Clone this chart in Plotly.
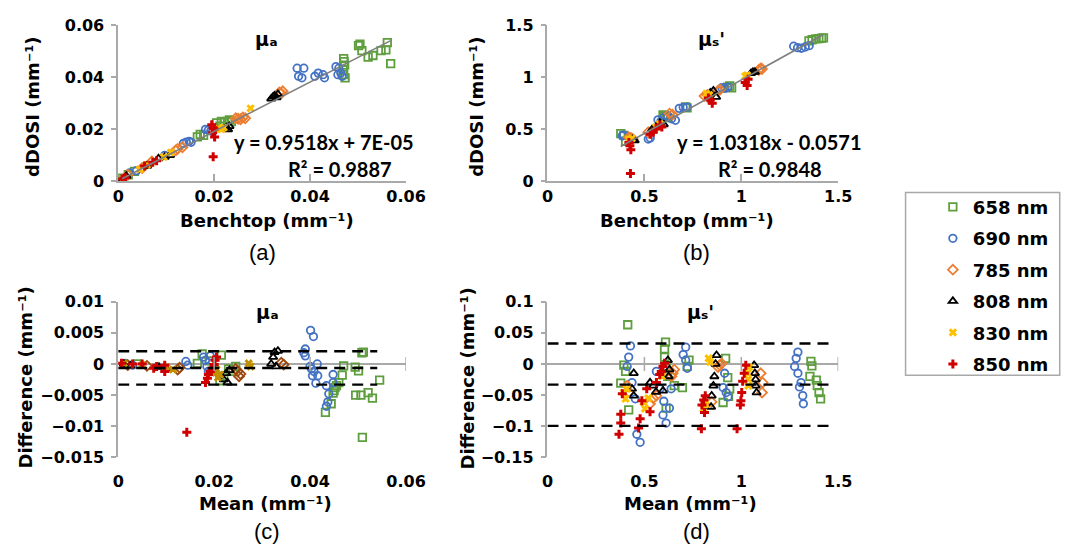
import plotly.graph_objects as go

# ---------------- data ----------------
WAVELENGTHS = ["658 nm", "690 nm", "785 nm", "808 nm", "830 nm", "850 nm"]

# (a) mu_a : benchtop vs dDOSI (mm^-1)
A_658_X = [0.0009, 0.0021, 0.0034, 0.0165, 0.0171, 0.0178, 0.0205, 0.0212, 0.0215, 0.0222, 0.0228, 0.0232, 0.0236,
           0.0470, 0.0471, 0.0472, 0.0469, 0.0470, 0.0473, 0.0501, 0.0504, 0.0508, 0.0521, 0.0531, 0.0548, 0.0558,
           0.0561, 0.0568]
A_658_Y = [0.0011, 0.0024, 0.0037, 0.0170, 0.0180, 0.0176, 0.0224, 0.0211, 0.0230, 0.0226, 0.0230, 0.0236, 0.0229,
           0.0472, 0.0460, 0.0447, 0.0429, 0.0410, 0.0398, 0.0522, 0.0528, 0.0503, 0.0478, 0.0484, 0.0503, 0.0506,
           0.0534, 0.0453]
A_690_X = [0.0012, 0.0024, 0.0038, 0.0097, 0.0136, 0.0142, 0.0148, 0.0152, 0.0182, 0.0188, 0.0193, 0.0373, 0.0387,
           0.0376, 0.0383, 0.0410, 0.0417, 0.0427, 0.0430, 0.0454, 0.0460, 0.0464, 0.0467, 0.0458]
A_690_Y = [0.0010, 0.0031, 0.0040, 0.0099, 0.0145, 0.0150, 0.0153, 0.0149, 0.0199, 0.0196, 0.0193, 0.0435, 0.0435,
           0.0404, 0.0398, 0.0404, 0.0416, 0.0410, 0.0398, 0.0441, 0.0435, 0.0416, 0.0404, 0.0410]
A_785_X = [0.0020, 0.0050, 0.0070, 0.0120, 0.0124, 0.0134, 0.0245, 0.0250, 0.0255, 0.0260, 0.0265, 0.0336, 0.0340, 0.0343]
A_785_Y = [0.0024, 0.0050, 0.0075, 0.0118, 0.0124, 0.0130, 0.0242, 0.0240, 0.0238, 0.0245, 0.0242, 0.0342, 0.0338, 0.0346]
A_808_X = [0.0010, 0.0017, 0.0060, 0.0084, 0.0097, 0.0108, 0.0225, 0.0229, 0.0232, 0.0319, 0.0323, 0.0326, 0.0330, 0.0333]
A_808_Y = [0.0006, 0.0019, 0.0058, 0.0087, 0.0093, 0.0099, 0.0206, 0.0199, 0.0211, 0.0317, 0.0325, 0.0329, 0.0322, 0.0335]
A_830_X = [0.0012, 0.0045, 0.0060, 0.0095, 0.0110, 0.0208, 0.0215, 0.0220, 0.0276]
A_830_Y = [0.0010, 0.0045, 0.0062, 0.0092, 0.0110, 0.0203, 0.0199, 0.0206, 0.0280]
A_850_X = [0.0008, 0.0015, 0.0055, 0.0072, 0.0080, 0.0195, 0.0198, 0.0200, 0.0201, 0.0197, 0.0198]
A_850_Y = [0.0008, 0.0012, 0.0058, 0.0072, 0.0078, 0.0217, 0.0205, 0.0200, 0.0170, 0.0186, 0.0093]

# (b) mu_s' : benchtop vs dDOSI (mm^-1)
B_658_X = [0.378, 0.394, 0.403, 0.596, 0.604, 0.612, 0.620, 0.713, 0.720, 0.930, 0.940, 0.950,
           1.349, 1.365, 1.384, 1.400, 1.414, 1.424]
B_658_Y = [0.456, 0.440, 0.382, 0.637, 0.625, 0.621, 0.610, 0.714, 0.705, 0.905, 0.916, 0.898,
           1.350, 1.362, 1.370, 1.372, 1.378, 1.380]
B_690_X = [0.386, 0.392, 0.520, 0.530, 0.570, 0.585, 0.600, 0.620, 0.640, 0.660, 0.680, 0.700, 0.720,
           0.900, 0.915, 0.930, 1.270, 1.290, 1.310, 1.330, 1.350]
B_690_Y = [0.435, 0.445, 0.404, 0.415, 0.590, 0.575, 0.610, 0.630, 0.600, 0.585, 0.700, 0.710, 0.712,
           0.900, 0.893, 0.905, 1.300, 1.285, 1.280, 1.292, 1.305]
B_785_X = [0.420, 0.430, 0.440, 0.520, 0.630, 0.645, 0.810, 0.825, 0.880, 0.890, 1.090, 1.100, 1.107]
B_785_Y = [0.420, 0.415, 0.405, 0.470, 0.650, 0.640, 0.820, 0.830, 0.870, 0.880, 1.070, 1.085, 1.080]
B_808_X = [0.440, 0.450, 0.540, 0.560, 0.580, 0.600, 0.840, 0.856, 0.870, 1.050, 1.060, 1.070]
B_808_Y = [0.400, 0.390, 0.500, 0.520, 0.560, 0.545, 0.850, 0.870, 0.810, 1.040, 1.050, 1.050]
B_830_X = [0.420, 0.435, 0.560, 0.580, 0.820, 0.835, 1.020, 1.030]
B_830_Y = [0.400, 0.410, 0.520, 0.550, 0.840, 0.830, 1.010, 1.020]
B_850_X = [0.420, 0.425, 0.430, 0.428, 0.530, 0.545, 0.560, 0.580, 0.590, 0.830, 0.840, 0.850, 1.020, 1.030, 1.035]
B_850_Y = [0.370, 0.340, 0.300, 0.071, 0.450, 0.470, 0.500, 0.540, 0.520, 0.800, 0.780, 0.750, 0.950, 0.920, 0.980]

# (c) mu_a : mean vs difference (mm^-1)
C_658_X = [0.0040, 0.0165, 0.0175, 0.0190, 0.0200, 0.0212, 0.0215, 0.0220, 0.0230, 0.0239, 0.0245, 0.0432, 0.0444,
           0.0448, 0.0450, 0.0452, 0.0455, 0.0460, 0.0467, 0.0470, 0.0494, 0.0495, 0.0501, 0.0506, 0.0508, 0.0511,
           0.0509, 0.0521, 0.0530, 0.0545]
C_658_Y = [0.0000, 0.0001, 0.0016, 0.0005, -0.0010, -0.0027, 0.0014, -0.0020, -0.0008, -0.0012, -0.0004, -0.0078,
           -0.0064, -0.0047, -0.0043, -0.0038, -0.0035, -0.0030, -0.0018, -0.0003, -0.0005, -0.0050, -0.0011, -0.0050,
           0.0018, 0.0019, -0.0118, -0.0046, -0.0055, -0.0026]
C_690_X = [0.0015, 0.0030, 0.0141, 0.0145, 0.0178, 0.0182, 0.0185, 0.0188, 0.0192, 0.0387, 0.0390, 0.0390, 0.0400,
           0.0401, 0.0403, 0.0405, 0.0407, 0.0408, 0.0412, 0.0415, 0.0416, 0.0434, 0.0434, 0.0437, 0.0439, 0.0448, 0.0448]
C_690_Y = [0.0001, -0.0002, 0.0004, -0.0002, 0.0011, 0.0006, -0.0004, -0.0012, 0.0013, 0.0018, 0.0024, 0.0013,
           -0.0004, 0.0054, -0.0008, -0.0019, 0.0044, -0.0012, -0.0031, 0.0000, -0.0019, -0.0035, -0.0068, -0.0061,
           -0.0048, -0.0017, -0.0030]
C_785_X = [0.0020, 0.0060, 0.0124, 0.0128, 0.0245, 0.0249, 0.0252, 0.0255, 0.0340, 0.0345]
C_785_Y = [-0.0002, -0.0003, -0.0009, -0.0006, -0.0008, -0.0012, -0.0020, -0.0016, 0.0002, -0.0001]
C_808_X = [0.0012, 0.0025, 0.0085, 0.0100, 0.0220, 0.0225, 0.0228, 0.0232, 0.0319, 0.0323, 0.0326, 0.0329, 0.0333]
C_808_Y = [0.0000, -0.0003, -0.0005, -0.0008, -0.0025, -0.0015, -0.0030, -0.0010, 0.0000, 0.0011, 0.0019, -0.0004, 0.0021]
C_830_X = [0.0012, 0.0050, 0.0100, 0.0114, 0.0203, 0.0205, 0.0208, 0.0212, 0.0272, 0.0276]
C_830_Y = [0.0001, -0.0002, -0.0005, -0.0009, -0.0014, -0.0009, -0.0022, -0.0017, 0.0001, -0.0004]
C_850_X = [0.0007, 0.0030, 0.0050, 0.0074, 0.0080, 0.0097, 0.0097, 0.0143, 0.0182, 0.0186, 0.0188, 0.0192, 0.0195,
           0.0200, 0.0202, 0.0205]
C_850_Y = [0.0001, 0.0000, 0.0000, -0.0007, -0.0004, -0.0002, -0.0012, -0.0110, -0.0030, -0.0023, -0.0017, -0.0012,
           -0.0007, -0.0001, 0.0006, 0.0011]

# (d) mu_s' : mean vs difference (mm^-1)
D_658_X = [0.414, 0.394, 0.403, 0.378, 0.419, 0.609, 0.604, 0.604, 0.612, 0.620, 0.612, 0.654, 0.696, 0.721, 0.730,
           0.919, 0.940, 0.930, 0.934, 0.906, 1.359, 1.364, 1.354, 1.387, 1.392, 1.401, 1.409]
D_658_Y = [0.063, -0.002, -0.012, -0.031, -0.074, 0.035, 0.024, 0.011, -0.004, -0.020, -0.071, -0.035, -0.038, -0.004,
           0.006, 0.009, -0.040, -0.022, -0.052, -0.062, 0.004, -0.003, -0.020, -0.026, -0.035, -0.046, -0.056]
D_690_X = [0.428, 0.419, 0.411, 0.436, 0.453, 0.461, 0.478, 0.562, 0.580, 0.596, 0.612, 0.629, 0.638, 0.600, 0.713,
           0.713, 0.721, 0.700, 0.914, 0.906, 0.922, 0.931, 1.292, 1.283, 1.275, 1.292, 1.308, 1.300, 1.317, 1.320]
D_690_Y = [0.029, 0.011, -0.004, -0.030, -0.056, -0.113, -0.126, -0.012, -0.040, -0.082, -0.095, -0.071, -0.040,
           -0.060, 0.027, 0.006, -0.007, 0.015, -0.015, -0.038, -0.046, -0.053, 0.019, 0.009, -0.004, -0.015, -0.030,
           -0.037, -0.051, -0.064]
D_785_X = [0.411, 0.420, 0.529, 0.545, 0.562, 0.646, 0.654, 0.640, 0.847, 0.889, 0.898, 0.880, 1.100, 1.107, 1.110]
D_785_Y = [-0.035, -0.045, -0.064, -0.055, -0.051, -0.015, -0.009, -0.020, -0.061, -0.002, 0.001, -0.005, -0.015,
           -0.046, -0.030]
D_808_X = [0.445, 0.436, 0.445, 0.529, 0.545, 0.560, 0.596, 0.621, 0.629, 0.625, 0.872, 0.867, 0.861, 0.856, 0.847,
           0.844, 1.066, 1.070, 1.074, 1.074, 1.079]
D_808_Y = [-0.015, -0.040, -0.051, -0.030, -0.035, -0.045, -0.043, 0.006, -0.009, -0.020, 0.014, 0.000, -0.020,
           -0.035, -0.051, -0.069, -0.002, -0.015, -0.025, -0.035, -0.046]
D_830_X = [0.394, 0.403, 0.410, 0.495, 0.503, 0.520, 0.590, 0.831, 0.839, 0.805, 0.815, 1.032, 1.036, 1.036, 1.040]
D_830_Y = [-0.046, -0.056, -0.040, -0.061, -0.072, -0.055, -0.020, 0.009, 0.003, -0.072, -0.065, -0.015, -0.025,
           -0.035, -0.005]
D_850_X = [0.378, 0.378, 0.369, 0.386, 0.478, 0.470, 0.487, 0.512, 0.529, 0.562, 0.579, 0.587, 0.596, 0.604, 0.814,
           0.806, 0.797, 0.810, 0.794, 0.978, 1.023, 1.015, 1.007, 1.002, 0.998, 0.995]
D_850_Y = [-0.081, -0.095, -0.113, -0.048, -0.088, -0.103, -0.059, -0.040, -0.077, -0.030, -0.017, -0.012, -0.004,
           0.001, -0.051, -0.058, -0.066, -0.078, -0.104, -0.104, -0.002, -0.015, -0.028, -0.046, -0.059, -0.066]

# linear fits (a), (b)
FIT_A = (0.9518, 7e-05)
FIT_B = (1.0318, -0.0571)
FIT_A_TEXT = ["y = 0.9518x + 7E-05", "R² = 0.9887"]
FIT_B_TEXT = ["y = 1.0318x - 0.0571", "R² = 0.9848"]

# Bland-Altman bias and limits of agreement (c), (d)
BA_C = [0.00203, -0.00065, -0.00333]
BA_C_SPAN = [0.0, 0.054]
BA_D = [0.0329, -0.0333, -0.0995]
BA_D_SPAN = [0.0, 1.47]

# axis ticks
TICKS_MUA = [0, 0.02, 0.04, 0.06]
TICKS_MUA_TXT = ["0", "0.02", "0.04", "0.06"]
TICKS_MUS = [0, 0.5, 1, 1.5]
TICKS_MUS_TXT = ["0", "0.5", "1", "1.5"]
TICKS_DIFF_A = [-0.015, -0.01, -0.005, 0, 0.005, 0.01]
TICKS_DIFF_A_TXT = ["\u22120.015", "\u22120.01", "\u22120.005", "0", "0.005", "0.01"]
TICKS_DIFF_S = [-0.15, -0.1, -0.05, 0, 0.05, 0.1]
TICKS_DIFF_S_TXT = ["\u22120.15", "\u22120.1", "\u22120.05", "0", "0.05", "0.1"]

# ---------------- styling ----------------
W, H = 1068, 560
SANS = "DejaVu Sans"
EQ_FONT = "Lato"
AX_GRAY = "#A9A9A9"
SYMBOLS = ["square-open", "circle-open", "diamond-open", "triangle-up-open", "x", "cross"]
COLORS = ["#5E9E3E", "#4472C4", "#ED7D31", "#000000", "#FFC000", "#D00000"]
COLORS_C = ["#5E9E3E", "#4472C4", "#9E480E", "#000000", "#C09000", "#D00000"]


def px(x):
    return x / W


def py(y):
    return 1 - y / H


fig = go.Figure()

panels = [
    ("x", "y", [A_658_X, A_690_X, A_785_X, A_808_X, A_830_X, A_850_X],
     [A_658_Y, A_690_Y, A_785_Y, A_808_Y, A_830_Y, A_850_Y], COLORS, True),
    ("x2", "y2", [B_658_X, B_690_X, B_785_X, B_808_X, B_830_X, B_850_X],
     [B_658_Y, B_690_Y, B_785_Y, B_808_Y, B_830_Y, B_850_Y], COLORS, False),
    ("x3", "y3", [C_658_X, C_690_X, C_785_X, C_808_X, C_830_X, C_850_X],
     [C_658_Y, C_690_Y, C_785_Y, C_808_Y, C_830_Y, C_850_Y], COLORS_C, False),
    ("x4", "y4", [D_658_X, D_690_X, D_785_X, D_808_X, D_830_X, D_850_X],
     [D_658_Y, D_690_Y, D_785_Y, D_808_Y, D_830_Y, D_850_Y], COLORS, False),
]

for xa, ya, xs, ys, cols, show in panels:
    for i, name in enumerate(WAVELENGTHS):
        filled = SYMBOLS[i] in ("x", "cross")
        fig.add_trace(go.Scatter(
            x=xs[i], y=ys[i], mode="markers", name=name, xaxis=xa, yaxis=ya,
            legendgroup=name, showlegend=show,
            marker=dict(symbol=SYMBOLS[i], size=7.5, color=cols[i],
                        line=dict(width=0 if filled else 1.8, color=cols[i])),
        ))

# trendlines for (a) and (b)
for xa, ya, allx, fit in [("x", "y", A_658_X + A_690_X + A_785_X + A_808_X + A_830_X + A_850_X, FIT_A),
                          ("x2", "y2", B_658_X + B_690_X + B_785_X + B_808_X + B_830_X + B_850_X, FIT_B)]:
    xe = [min(allx), max(allx)]
    fig.add_trace(go.Scatter(x=xe, y=[fit[0] * v + fit[1] for v in xe], mode="lines", xaxis=xa, yaxis=ya,
                             showlegend=False, hoverinfo="skip", line=dict(color="#7F7F7F", width=1.6)))

# bias and limits of agreement for (c) and (d)
for xa, ya, levels, span in [("x3", "y3", BA_C, BA_C_SPAN), ("x4", "y4", BA_D, BA_D_SPAN)]:
    for lv in levels:
        fig.add_trace(go.Scatter(x=span, y=[lv, lv], mode="lines", xaxis=xa, yaxis=ya, showlegend=False,
                                 hoverinfo="skip", line=dict(color="black", width=2.4, dash="11px,7px")))

tickfont = dict(family=SANS, size=16, color="black", weight="bold")


def yax(dom, rng, tv, tt, anchor, zero=False):
    return dict(domain=dom, range=rng, tickvals=tv, ticktext=tt, anchor=anchor, showline=True, linecolor=AX_GRAY,
                linewidth=1.5, ticks="outside", ticklen=5, tickcolor=AX_GRAY, tickwidth=1.5, showgrid=False,
                zeroline=zero, zerolinecolor=AX_GRAY, zerolinewidth=1.5, tickfont=tickfont,
                ticklabelstandoff=4, fixedrange=True)


def xax(dom, rng, tv, tt, anchor, line=True):
    return dict(domain=dom, range=rng, tickvals=tv, ticktext=tt, anchor=anchor, showline=line, linecolor=AX_GRAY,
                linewidth=1.5, ticks="inside" if line else "", ticklen=7, tickcolor=AX_GRAY, tickwidth=1.5,
                showgrid=False, zeroline=False, tickfont=tickfont, ticklabelstandoff=0 if line else 13,
                fixedrange=True)


XL = [px(115), px(410)]
XR = [px(555), px(853)]
YT = [py(178), py(17)]
YB = [py(464), py(303)]

fig.update_layout(
    xaxis=xax(XL, [0, 0.06], TICKS_MUA, TICKS_MUA_TXT, "y"),
    yaxis=yax(YT, [0, 0.06], TICKS_MUA, TICKS_MUA_TXT, "x"),
    xaxis2=xax(XR, [0, 1.5], TICKS_MUS, TICKS_MUS_TXT, "y2"),
    yaxis2=yax(YT, [0, 1.5], TICKS_MUS, TICKS_MUS_TXT, "x2"),
    xaxis3=xax(XL, [0, 0.06], TICKS_MUA, TICKS_MUA_TXT, "y3", line=False),
    yaxis3=yax(YB, [-0.015, 0.01], TICKS_DIFF_A, TICKS_DIFF_A_TXT, "x3", zero=True),
    xaxis4=xax(XR, [0, 1.5], TICKS_MUS, TICKS_MUS_TXT, "y4", line=False),
    yaxis4=yax(YB, [-0.15, 0.1], TICKS_DIFF_S, TICKS_DIFF_S_TXT, "x4", zero=True),
)

# cross tick marks on the zero lines of (c) and (d)
shapes = []
for xr, yr, tv in [("x3", "y3", TICKS_MUA[1:]), ("x4", "y4", TICKS_MUS[1:])]:
    for t in tv:
        shapes.append(dict(type="line", xref=xr, yref=yr, ysizemode="pixel", yanchor=0, x0=t, x1=t, y0=-7, y1=7,
                           line=dict(color=AX_GRAY, width=1.5)))
# legend frame
shapes.append(dict(type="rect", xref="paper", yref="paper", x0=px(922), x1=px(1080), y0=py(379), y1=py(190),
                   line=dict(color=AX_GRAY, width=1.5), fillcolor="rgba(0,0,0,0)"))

ann = []


def text(x, y, s, size=18, family=SANS, angle=0, weight="bold"):
    ann.append(dict(x=px(x), y=py(y), xref="paper", yref="paper", text=s, showarrow=False, textangle=angle,
                    xanchor="center", yanchor="middle",
                    font=dict(family=family, size=size, color="black", weight=weight)))


# panel titles
text(267, 31, "\u03bc\u2090", size=19)
text(723, 31, "\u03bc\u209b'", size=19)
text(268, 314, "\u03bc\u2090", size=19)
text(712, 314, "\u03bc\u209b'", size=19)
# fit equations
text(326, 138, FIT_A_TEXT[0], size=20, family=EQ_FONT)
text(342, 166, FIT_A_TEXT[1], size=20, family=EQ_FONT)
text(783, 138, FIT_B_TEXT[0], size=20, family=EQ_FONT)
text(783, 166, FIT_B_TEXT[1], size=20, family=EQ_FONT)
# axis titles
text(267, 219, "Benchtop (mm\u207b\u00b9)")
text(698, 219, "Benchtop (mm\u207b\u00b9)")
text(266, 512, "Mean (mm\u207b\u00b9)")
text(702, 512, "Mean (mm\u207b\u00b9)")
text(27, 101, "dDOSI (mm\u207b\u00b9)", angle=-90)
text(482, 101, "dDOSI (mm\u207b\u00b9)", angle=-90)
text(20, 382, "Difference (mm\u207b\u00b9)", angle=-90)
text(473, 382, "Difference (mm\u207b\u00b9)", angle=-90)
# sub-figure labels
for lx, ly, lab in [(263, 252, "(a)"), (708, 252, "(b)"), (267, 541, "(c)"), (708, 541, "(d)")]:
    text(lx, ly, lab, size=22, family="Liberation Sans", weight="normal")

fig.update_layout(
    width=W, height=H, margin=dict(l=0, r=0, t=0, b=0),
    paper_bgcolor="white", plot_bgcolor="white",
    shapes=shapes, annotations=ann,
    showlegend=True,
    legend=dict(x=px(950), y=py(186), xanchor="left", yanchor="top", bgcolor="rgba(0,0,0,0)",
                borderwidth=0, font=dict(family=SANS, size=18, color="black", weight="bold"), tracegroupgap=5,
                itemsizing="trace"),
)

fig.write_html("out.html")
